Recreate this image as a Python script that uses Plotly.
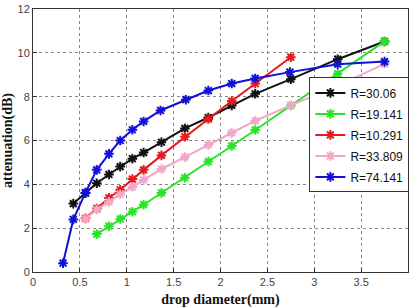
import plotly.graph_objects as go

# Data
x_black = [0.43, 0.56, 0.68, 0.81, 0.93, 1.06, 1.18, 1.37, 1.62, 1.87, 2.12, 2.37, 2.75, 3.25, 3.75]
y_black = [3.12, 3.60, 4.05, 4.45, 4.81, 5.17, 5.45, 5.92, 6.55, 7.05, 7.60, 8.13, 8.80, 9.71, 10.52]

x_green = [0.68, 0.81, 0.93, 1.06, 1.18, 1.37, 1.62, 1.87, 2.12, 2.37, 2.75, 3.25, 3.75]
y_green = [1.73, 2.09, 2.42, 2.75, 3.07, 3.61, 4.30, 5.04, 5.75, 6.48, 7.60, 9.04, 10.52]

x_red = [0.56, 0.68, 0.81, 0.93, 1.06, 1.18, 1.37, 1.62, 1.87, 2.12, 2.37, 2.75]
y_red = [2.45, 2.90, 3.38, 3.75, 4.24, 4.66, 5.32, 6.17, 6.98, 7.80, 8.60, 9.80]

x_pink = [0.56, 0.68, 0.81, 0.93, 1.06, 1.18, 1.37, 1.62, 1.87, 2.12, 2.37, 2.75, 3.25, 3.75]
y_pink = [2.42, 2.85, 3.20, 3.55, 3.88, 4.20, 4.70, 5.24, 5.80, 6.35, 6.90, 7.60, 8.50, 9.50]

x_blue = [0.32, 0.43, 0.56, 0.68, 0.81, 0.93, 1.06, 1.18, 1.36, 1.63, 1.87, 2.12, 2.37, 2.74, 3.25, 3.75]
y_blue = [0.40, 2.40, 3.62, 4.66, 5.39, 6.00, 6.49, 6.87, 7.37, 7.86, 8.28, 8.60, 8.83, 9.12, 9.48, 9.60]

series = [
    ("R=30.06", x_black, y_black, "#111111"),
    ("R=19.141", x_green, y_green, "#28e428"),
    ("R=10.291", x_red, y_red, "#e8181c"),
    ("R=33.809", x_pink, y_pink, "#f2a6c8"),
    ("R=74.141", x_blue, y_blue, "#1010d8"),
]

x_ticks = [0, 0.5, 1, 1.5, 2, 2.5, 3, 3.5, 4]
y_ticks = [0, 2, 4, 6, 8, 10, 12]

fig = go.Figure()
for i, (name, xs, ys, col) in enumerate(series):
    fig.add_trace(go.Scatter(
        x=xs, y=ys, name=name, mode="lines+markers",
        legendgroup=f"g{i}",
        line=dict(color=col, width=2),
        marker=dict(symbol="asterisk-open", size=8, color=col,
                    line=dict(color=col, width=2)),
    ))

axis_common = dict(
    showline=True, linecolor="#333333", linewidth=1, mirror=True,
    showgrid=True, gridcolor="#888888", griddash="dot", gridwidth=1,
    ticks="inside", ticklen=4, tickcolor="#333333",
    tickfont=dict(family="Arial, Liberation Sans", size=11, color="#444444"),
    zeroline=False, automargin=False,
)

title_font = dict(family="Liberation Serif, Times New Roman", size=14,
                  color="#111111", weight="bold")

fig.update_layout(
    width=410, height=308, autosize=False,
    margin=dict(l=33, r=2, t=9, b=36, autoexpand=False),
    paper_bgcolor="white", plot_bgcolor="white",
    xaxis=dict(range=[0, 4], tickvals=x_ticks,
               ticktext=[str(t) for t in x_ticks],
               title=dict(text="drop diameter(mm)", font=title_font),
               **axis_common),
    yaxis=dict(range=[0, 12], tickvals=y_ticks,
               title=dict(text="attenuation(dB)", font=title_font),
               **axis_common),
    legend=dict(x=0.737, y=0.74, xanchor="left", yanchor="top",
                bgcolor="white", bordercolor="#333333", borderwidth=1,
                font=dict(family="Arial, Liberation Sans", size=12, color="#111111"),
                traceorder="grouped", tracegroupgap=2, itemwidth=30),
    showlegend=True,
)

fig.write_html("out.html")
